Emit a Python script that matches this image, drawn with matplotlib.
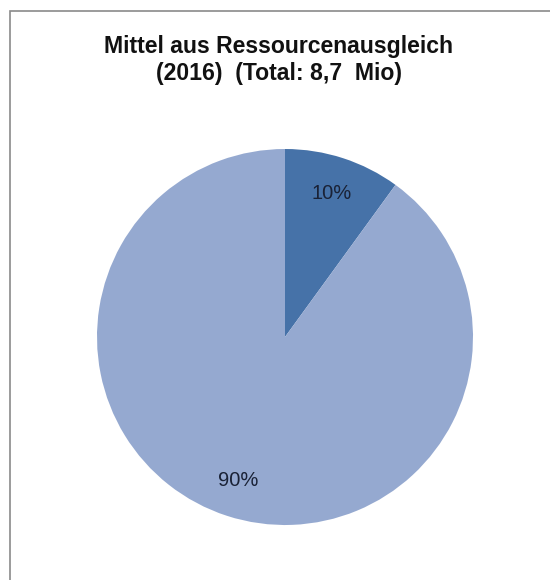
import matplotlib
matplotlib.use("Agg")
import matplotlib.pyplot as plt
from matplotlib.patches import Rectangle

categories = ["Anteil A", "Anteil B"]
values = [10, 90]
colors = ["#4672a8", "#95a9d0"]
title_text = "Mittel aus Ressourcenausgleich\n(2016)  (Total: 8,7  Mio)"

plt.rcParams['font.family'] = ['Liberation Sans', 'DejaVu Sans']

fig = plt.figure(figsize=(5.5, 5.8), dpi=100)
fig.patch.set_facecolor('white')

# border
fig.patches.append(Rectangle((9.5/550, -0.1), 1.2, 1 - 10.5/580 + 0.1,
                             transform=fig.transFigure, fill=False,
                             edgecolor='#8a8a8a', linewidth=1.2))

fig.text(279/550, 1 - 60/580, title_text, ha='center', va='center',
         fontsize=16.6, fontweight='bold', color='#111111', linespacing=1.2)

ax = fig.add_axes([97/550, 55/580, 376/550, 376/580])
wedges, texts, autotexts = ax.pie(values, colors=colors, startangle=90,
                                  counterclock=False, autopct='%1.0f%%',
                                  pctdistance=0.8, radius=1,
                                  wedgeprops=dict(linewidth=0),
                                  textprops=dict(fontsize=14.5, color='#1a2236'))
ax.set_xlim(-1, 1)
ax.set_ylim(-1, 1)
ax.set_aspect('equal')
ax.axis('off')

fig.savefig("out.png", dpi=100, facecolor='white')
